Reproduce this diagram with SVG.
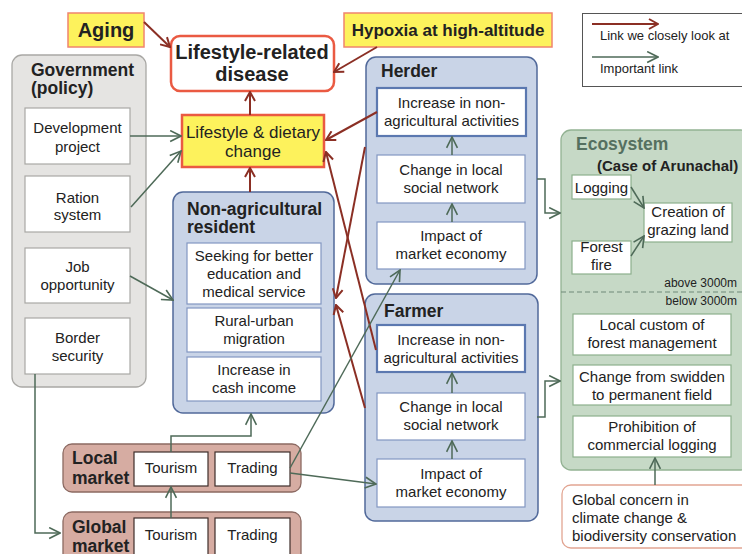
<svg xmlns="http://www.w3.org/2000/svg" width="742" height="554" viewBox="0 0 742 554">
<defs>
<style>
text{font-family:"Liberation Sans",Arial,sans-serif;fill:#222;}
.t{font-size:15px;text-anchor:middle;}
.b{font-weight:bold;font-size:17.5px;}
.wb{fill:#fff;stroke:#8297c2;stroke-width:1.2;}
.wb2{fill:#fff;stroke:#5b78b0;stroke-width:2.2;}
.gb{fill:#fff;stroke:#a9a8a5;stroke-width:1.2;}
.eb{fill:#fff;stroke:#8db08d;stroke-width:1.2;}
.mb{fill:#fff;stroke:#3e2e2a;stroke-width:1.2;}
.blue{fill:#c9d4e7;stroke:#51699a;stroke-width:1.5;}
.red{fill:none;stroke:#8b2f24;stroke-width:2;marker-end:url(#ar);}
.grn{fill:none;stroke:#4e6a58;stroke-width:1.5;marker-end:url(#ag);}
</style>
<marker id="ar" viewBox="0 0 12 12" refX="11" refY="6" markerWidth="12" markerHeight="12" markerUnits="userSpaceOnUse" orient="auto"><path d="M2,1 L11,6 L2,11" fill="none" stroke="#8b2f24" stroke-width="2"/></marker>
<marker id="ag" viewBox="0 0 12 12" refX="11" refY="6" markerWidth="13" markerHeight="13" markerUnits="userSpaceOnUse" orient="auto"><path d="M1,1 L11,6 L1,11" fill="none" stroke="#4e6a58" stroke-width="1.5"/></marker>
</defs>
<rect width="742" height="554" fill="#fff"/>

<g id="legend">
<rect x="582.5" y="13.5" width="170" height="73" fill="#fff" stroke="#555" stroke-width="1"/>
<line x1="592" y1="24" x2="658" y2="24" class="red"/>
<text x="600" y="40" style="font-size:13px">Link we closely look at</text>
<line x1="592" y1="57" x2="658" y2="57" class="grn"/>
<text x="600" y="73" style="font-size:13px">Important link</text>
</g>

<g id="aging">
<rect x="68" y="13" width="76" height="34" fill="#fdf25c" stroke="#f0846e" stroke-width="1.5"/>
<text x="106" y="37" style="font-size:20px;font-weight:bold;text-anchor:middle">Aging</text>
</g>
<g id="hypoxia">
<rect x="344" y="13" width="208" height="34" fill="#fdf25c" stroke="#f0846e" stroke-width="1.5"/>
<text x="448" y="36" style="font-size:17px;font-weight:bold;text-anchor:middle">Hypoxia at high-altitude</text>
</g>
<g id="disease">
<rect x="171" y="36" width="163" height="55" rx="9" fill="#fff" stroke="#ea5a42" stroke-width="2.5"/>
<text x="252" y="59" style="font-size:20px;font-weight:bold;text-anchor:middle">Lifestyle-related</text>
<text x="252" y="81" style="font-size:20px;font-weight:bold;text-anchor:middle">disease</text>
</g>
<g id="lifestyle-change">
<rect x="182" y="115" width="142" height="52" fill="#fdf25c" stroke="#ea5a42" stroke-width="2.5"/>
<text x="253" y="138" style="font-size:17px;text-anchor:middle">Lifestyle &amp; dietary</text>
<text x="253" y="157" style="font-size:17px;text-anchor:middle">change</text>
</g>

<g id="government">
<rect x="12" y="55" width="134" height="332" rx="10" fill="#e5e4e2" stroke="#a9a8a5" stroke-width="1.3"/>
<text x="31" y="76" class="b">Government</text>
<text x="31" y="94" class="b">(policy)</text>
<g id="gov-development"><rect x="25" y="108" width="105" height="56" class="gb"/>
<text x="77.5" y="133" class="t">Development</text><text x="77.5" y="152" class="t">project</text></g>
<g id="gov-ration"><rect x="25" y="176" width="105" height="56" class="gb"/>
<text x="77.5" y="203" class="t">Ration</text><text x="77.5" y="220" class="t">system</text></g>
<g id="gov-job"><rect x="25" y="248" width="105" height="55" class="gb"/>
<text x="77.5" y="272" class="t">Job</text><text x="77.5" y="290" class="t">opportunity</text></g>
<g id="gov-border"><rect x="25" y="318" width="105" height="56" class="gb"/>
<text x="77.5" y="343" class="t">Border</text><text x="77.5" y="361" class="t">security</text></g>
</g>

<g id="nonag">
<rect x="173" y="192" width="161" height="221" rx="10" class="blue"/>
<text x="187" y="215" class="b">Non-agricultural</text>
<text x="187" y="233" class="b">resident</text>
<g id="nonag-seeking"><rect x="187" y="243" width="134" height="61" class="wb"/>
<text x="254" y="261" class="t">Seeking for better</text><text x="254" y="279" class="t">education and</text><text x="254" y="297" class="t">medical service</text></g>
<g id="nonag-migration"><rect x="187" y="308" width="134" height="44" class="wb"/>
<text x="254" y="326" class="t">Rural-urban</text><text x="254" y="344" class="t">migration</text></g>
<g id="nonag-cash"><rect x="187" y="357" width="134" height="44" class="wb"/>
<text x="254" y="375" class="t">Increase in</text><text x="254" y="393" class="t">cash income</text></g>
</g>

<g id="herder">
<rect x="366" y="57" width="171" height="227" rx="10" class="blue"/>
<text x="381" y="77" class="b">Herder</text>
<g id="herder-increase"><rect x="377" y="88" width="149" height="48" class="wb2"/>
<text x="451.5" y="108" class="t">Increase in non-</text><text x="451.5" y="126" class="t">agricultural activities</text></g>
<g id="herder-network"><rect x="377" y="155" width="148" height="48" class="wb"/>
<text x="451" y="175" class="t">Change in local</text><text x="451" y="193" class="t">social network</text></g>
<g id="herder-market"><rect x="377" y="222" width="148" height="47" class="wb"/>
<text x="451" y="241" class="t">Impact of</text><text x="451" y="259" class="t">market economy</text></g>
</g>

<g id="farmer">
<rect x="365" y="294" width="173" height="227" rx="10" class="blue"/>
<text x="384" y="317" class="b">Farmer</text>
<g id="farmer-increase"><rect x="377" y="325" width="148" height="47" class="wb2"/>
<text x="451" y="345" class="t">Increase in non-</text><text x="451" y="363" class="t">agricultural activities</text></g>
<g id="farmer-network"><rect x="377" y="393" width="148" height="47" class="wb"/>
<text x="451" y="412" class="t">Change in local</text><text x="451" y="430" class="t">social network</text></g>
<g id="farmer-market"><rect x="377" y="459" width="148" height="48" class="wb"/>
<text x="451" y="479" class="t">Impact of</text><text x="451" y="497" class="t">market economy</text></g>
</g>

<g id="ecosystem">
<rect x="561" y="130" width="190" height="340" rx="10" fill="#c6d9c6" stroke="#93b293" stroke-width="1.3"/>
<text x="576" y="150" class="b" style="fill:#557060">Ecosystem</text>
<text x="597" y="171" style="font-size:15px;font-weight:bold">(Case of Arunachal)</text>
<g id="eco-logging"><rect x="572" y="175" width="59" height="24" class="eb"/>
<text x="601.5" y="193" class="t">Logging</text></g>
<g id="eco-fire"><rect x="572" y="241" width="59" height="33" class="eb"/>
<text x="601.5" y="252" class="t">Forest</text><text x="601.5" y="270" class="t">fire</text></g>
<g id="eco-grazing"><rect x="644" y="203" width="88" height="39" class="eb"/>
<text x="688" y="217" class="t">Creation of</text><text x="688" y="235" class="t">grazing land</text></g>
<text x="737" y="287" style="font-size:12px;text-anchor:end">above 3000m</text>
<line x1="561" y1="292" x2="742" y2="292" stroke="#6e8a78" stroke-width="1.2" stroke-dasharray="5,3"/>
<text x="737" y="305" style="font-size:12px;text-anchor:end">below 3000m</text>
<g id="eco-custom"><rect x="573" y="314" width="158" height="41" class="eb"/>
<text x="652" y="330" class="t">Local custom of</text><text x="652" y="348" class="t">forest management</text></g>
<g id="eco-swidden"><rect x="573" y="365" width="158" height="40" class="eb"/>
<text x="652" y="382" class="t">Change from swidden</text><text x="652" y="400" class="t">to permanent field</text></g>
<g id="eco-logging-ban"><rect x="573" y="416" width="158" height="41" class="eb"/>
<text x="652" y="432" class="t">Prohibition of</text><text x="652" y="450" class="t">commercial logging</text></g>
</g>

<g id="global-concern">
<rect x="562" y="485" width="190" height="63" rx="9" fill="#fff" stroke="#e2a592" stroke-width="1.3"/>
<text x="572" y="505" style="font-size:15px">Global concern in</text>
<text x="572" y="523" style="font-size:15px">climate change &amp;</text>
<text x="572" y="541" style="font-size:15px">biodiversity conservation</text>
</g>

<g id="local-market">
<rect x="63" y="444" width="238" height="48" rx="9" fill="#d6aca2" stroke="#8c6a62" stroke-width="1.3"/>
<text x="72" y="464" class="b">Local</text>
<text x="72" y="484" class="b">market</text>
<g id="local-tourism"><rect x="134" y="452" width="74" height="34" class="mb"/>
<text x="171" y="473" class="t">Tourism</text></g>
<g id="local-trading"><rect x="215" y="452" width="75" height="34" class="mb"/>
<text x="252.5" y="473" class="t">Trading</text></g>
</g>
<g id="global-market">
<rect x="63" y="512" width="238" height="60" rx="9" fill="#d6aca2" stroke="#8c6a62" stroke-width="1.3"/>
<text x="72" y="533" class="b">Global</text>
<text x="72" y="552" class="b">market</text>
<g id="global-tourism"><rect x="134" y="518" width="74" height="40" class="mb"/>
<text x="171" y="540" class="t">Tourism</text></g>
<g id="global-trading"><rect x="215" y="518" width="75" height="40" class="mb"/>
<text x="252.5" y="540" class="t">Trading</text></g>
</g>

<g id="connectors">
<line x1="144" y1="22" x2="170" y2="47" class="red"/>
<line x1="377" y1="47" x2="334" y2="72" class="red"/>
<line x1="250" y1="115" x2="250" y2="92" class="red"/>
<line x1="250" y1="192" x2="250" y2="168" class="red"/>
<line x1="377" y1="112" x2="326" y2="140" class="red"/>
<line x1="365" y1="147" x2="336" y2="298" class="red"/>
<line x1="376" y1="350" x2="326" y2="152" class="red"/>
<line x1="365" y1="408" x2="336" y2="305" class="red"/>

<line x1="130" y1="136" x2="181" y2="136" class="grn"/>
<line x1="131" y1="207" x2="181" y2="151" class="grn"/>
<line x1="130" y1="276" x2="173" y2="300" class="grn"/>
<polyline points="35,374 35,533 60,533" class="grn"/>
<polyline points="171,452 171,436 251,436 251,414" class="grn"/>
<line x1="171" y1="518" x2="171" y2="487" class="grn"/>
<line x1="290" y1="473" x2="376" y2="484" class="grn"/>
<line x1="290" y1="468" x2="400" y2="270" class="grn"/>
<line x1="452" y1="155" x2="452" y2="137" class="grn"/>
<line x1="452" y1="222" x2="452" y2="204" class="grn"/>
<line x1="452" y1="393" x2="452" y2="373" class="grn"/>
<line x1="452" y1="459" x2="452" y2="441" class="grn"/>
<polyline points="537,179 545,179 545,213 560,213" class="grn"/>
<polyline points="537,417 545,417 545,381 560,381" class="grn"/>
<line x1="631" y1="187" x2="644" y2="208" class="grn"/>
<line x1="631" y1="256" x2="644" y2="236" class="grn"/>
<line x1="655" y1="485" x2="655" y2="458" class="grn"/>
</g>
</svg>
